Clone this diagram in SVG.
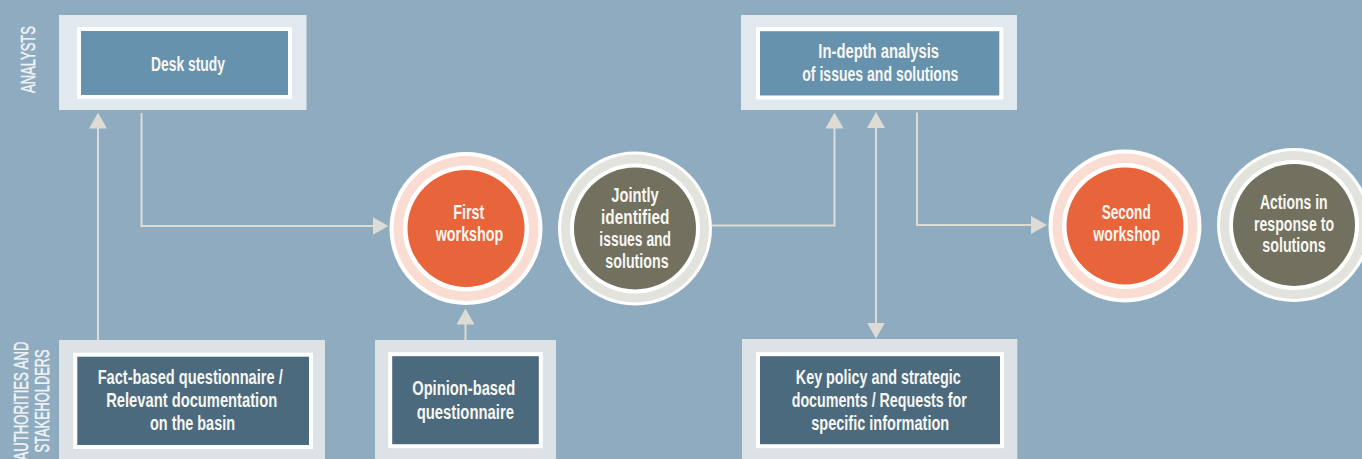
<svg xmlns="http://www.w3.org/2000/svg" width="1362" height="459" viewBox="0 0 1362 459">
  <defs>
    <marker id="head" viewBox="0 0 16 18" refX="12" refY="9" markerWidth="16" markerHeight="18" markerUnits="userSpaceOnUse" orient="auto-start-reverse">
      <path d="M0,0 L16,9 L0,18 Z" fill="#DCDCD5"/>
    </marker>
  </defs>
  <style>
    .bg { fill: #8FABC0; }
    .panel-a { fill: #E1E9EF; }
    .panel-s { fill: #DCE2E6; }
    .box-a { fill: #6792AE; stroke: #FFFFFF; stroke-width: 4; }
    .box-s { fill: #4C6A7E; stroke: #FFFFFF; stroke-width: 4; }
    .lbl { font-family: "Liberation Sans", Arial, sans-serif; font-weight: bold; font-size: 20px; fill: #F7F7F2; text-anchor: middle; }
    .role { font-family: "Liberation Sans", Arial, sans-serif; font-size: 21px; fill: #F0F3F5; stroke: #F0F3F5; stroke-width: 0.5; text-anchor: middle; }
    .ring-w { fill: #FFFFFF; }
    .ring-p { fill: #FADDD2; }
    .ring-g { fill: #E3E3DE; }
    .core-o { fill: #E8643A; }
    .core-d { fill: #72705F; }
    .conn { fill: none; stroke: #DCDCD5; stroke-width: 2; }
  </style>

  <rect class="bg" x="0" y="0" width="1362" height="459"/>

  <!-- role labels -->
  <g id="role-analysts">
    <text class="role" transform="translate(35,59.5) rotate(-90)" textLength="67" lengthAdjust="spacingAndGlyphs">ANALYSTS</text>
  </g>
  <g id="role-stakeholders">
    <text class="role" transform="translate(28,401) rotate(-90)" textLength="119" lengthAdjust="spacingAndGlyphs">AUTHORITIES AND</text>
    <text class="role" transform="translate(49,401) rotate(-90)" textLength="103" lengthAdjust="spacingAndGlyphs">STAKEHOLDERS</text>
  </g>

  <!-- connectors -->
  <g id="connectors">
    <line class="conn" x1="98" y1="340" x2="98" y2="116.5" marker-end="url(#head)"/>
    <polyline class="conn" points="141.5,113 141.5,226 384.5,226" marker-end="url(#head)"/>
    <line class="conn" x1="465.5" y1="340" x2="465.5" y2="312.5" marker-end="url(#head)"/>
    <polyline class="conn" points="712,225.5 834.5,225.5 834.5,116.5" marker-end="url(#head)"/>
    <line class="conn" x1="876" y1="116" x2="876" y2="334.5" marker-start="url(#head)" marker-end="url(#head)"/>
    <polyline class="conn" points="917,112.5 917,225 1043,225" marker-end="url(#head)"/>
  </g>

  <!-- analyst tasks -->
  <g id="desk-study">
    <rect class="panel-a" x="59" y="15" width="247.5" height="95"/>
    <rect class="box-a" x="79" y="29" width="211" height="68"/>
    <text class="lbl" x="188" y="70.5" textLength="74" lengthAdjust="spacingAndGlyphs">Desk study</text>
  </g>

  <g id="in-depth-analysis">
    <rect class="panel-a" x="741" y="15" width="276" height="95"/>
    <rect class="box-a" x="758" y="29.2" width="243.3" height="68.3"/>
    <text class="lbl" x="878.7" y="57.5" textLength="120.7" lengthAdjust="spacingAndGlyphs">In-depth analysis</text>
    <text class="lbl" x="880.3" y="81.3" textLength="156" lengthAdjust="spacingAndGlyphs">of issues and solutions</text>
  </g>

  <!-- stakeholder inputs -->
  <g id="fact-questionnaire">
    <rect class="panel-s" x="59" y="340" width="266" height="130"/>
    <rect class="box-s" x="75.3" y="354.7" width="235.7" height="92.3"/>
    <text class="lbl" x="190.2" y="383.5" textLength="185" lengthAdjust="spacingAndGlyphs">Fact-based questionnaire /</text>
    <text class="lbl" x="191.7" y="407" textLength="171" lengthAdjust="spacingAndGlyphs">Relevant documentation</text>
    <text class="lbl" x="192.5" y="430.3" textLength="85" lengthAdjust="spacingAndGlyphs">on the basin</text>
  </g>

  <g id="opinion-questionnaire">
    <rect class="panel-s" x="375" y="340" width="181" height="130"/>
    <rect class="box-s" x="390.2" y="354.2" width="150.6" height="92"/>
    <text class="lbl" x="463.7" y="395.3" textLength="103" lengthAdjust="spacingAndGlyphs">Opinion-based</text>
    <text class="lbl" x="465.3" y="418.6" textLength="97.3" lengthAdjust="spacingAndGlyphs">questionnaire</text>
  </g>

  <g id="key-policy-documents">
    <rect class="panel-s" x="742" y="339" width="275.3" height="130"/>
    <rect class="box-s" x="758" y="354.2" width="244" height="92"/>
    <text class="lbl" x="878.3" y="383.5" textLength="165" lengthAdjust="spacingAndGlyphs">Key policy and strategic</text>
    <text class="lbl" x="879.2" y="407" textLength="175" lengthAdjust="spacingAndGlyphs">documents / Requests for</text>
    <text class="lbl" x="880.2" y="430.3" textLength="138" lengthAdjust="spacingAndGlyphs">specific information</text>
  </g>

  <!-- workshops and outcomes -->
  <g id="first-workshop">
    <circle class="ring-w" cx="466" cy="228.5" r="76.5"/>
    <circle class="ring-p" cx="466" cy="228.5" r="72.5"/>
    <circle class="ring-w" cx="466" cy="228.5" r="63"/>
    <circle class="core-o" cx="466" cy="228.5" r="58.5"/>
    <text class="lbl" x="468.8" y="219.3" textLength="31" lengthAdjust="spacingAndGlyphs">First</text>
    <text class="lbl" x="469.5" y="241" textLength="67.7" lengthAdjust="spacingAndGlyphs">workshop</text>
  </g>

  <g id="jointly-identified">
    <circle class="ring-w" cx="635" cy="228.5" r="77"/>
    <circle class="ring-g" cx="635" cy="228.5" r="74"/>
    <circle class="ring-w" cx="635" cy="228.5" r="65"/>
    <circle class="core-d" cx="635" cy="228.5" r="61"/>
    <text class="lbl" x="635" y="202" textLength="47.4" lengthAdjust="spacingAndGlyphs">Jointly</text>
    <text class="lbl" x="635.2" y="224.3" textLength="68.3" lengthAdjust="spacingAndGlyphs">identified</text>
    <text class="lbl" x="635.2" y="246.3" textLength="71.7" lengthAdjust="spacingAndGlyphs">issues and</text>
    <text class="lbl" x="637" y="267.6" textLength="63.4" lengthAdjust="spacingAndGlyphs">solutions</text>
  </g>

  <g id="second-workshop">
    <circle class="ring-w" cx="1125" cy="226" r="76.5"/>
    <circle class="ring-p" cx="1125" cy="226" r="72.5"/>
    <circle class="ring-w" cx="1125" cy="226" r="63"/>
    <circle class="core-o" cx="1125" cy="226" r="58.5"/>
    <text class="lbl" x="1126.2" y="219.3" textLength="49" lengthAdjust="spacingAndGlyphs">Second</text>
    <text class="lbl" x="1126.7" y="241" textLength="66.7" lengthAdjust="spacingAndGlyphs">workshop</text>
  </g>

  <g id="actions-in-response">
    <circle class="ring-w" cx="1294" cy="225" r="77"/>
    <circle class="ring-g" cx="1294" cy="225" r="74"/>
    <circle class="ring-w" cx="1294" cy="225" r="65"/>
    <circle class="core-d" cx="1294" cy="225" r="61"/>
    <text class="lbl" x="1293.8" y="208.6" textLength="67.7" lengthAdjust="spacingAndGlyphs">Actions in</text>
    <text class="lbl" x="1294" y="231" textLength="80" lengthAdjust="spacingAndGlyphs">response to</text>
    <text class="lbl" x="1294" y="252" textLength="63.4" lengthAdjust="spacingAndGlyphs">solutions</text>
  </g>
</svg>
